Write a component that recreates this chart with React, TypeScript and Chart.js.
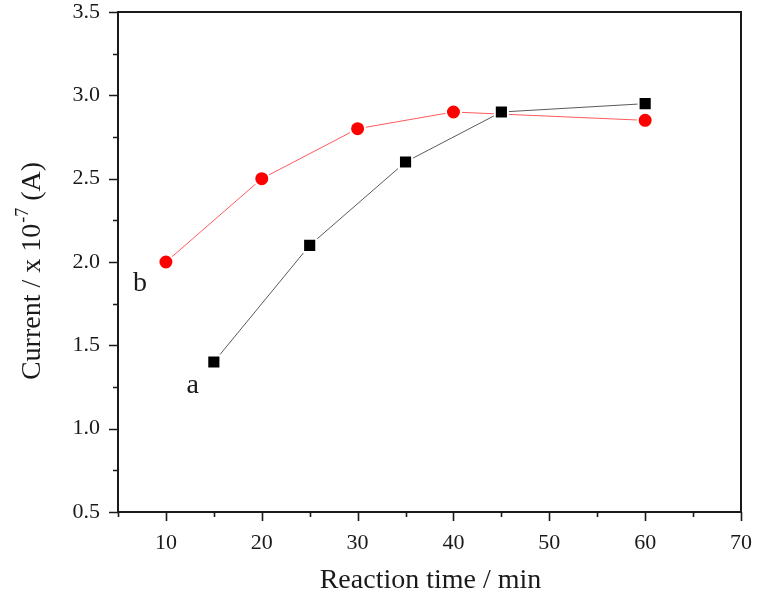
import { useEffect, useRef } from 'react';
import { Chart, registerables } from 'chart.js';

Chart.register(...registerables);

const timesA = [15, 25, 35, 45, 60];
const currentA = [1.4, 2.1, 2.6, 2.9, 2.95];
const timesB = [10, 20, 30, 40, 60];
const currentB = [2.0, 2.5, 2.8, 2.9, 2.85];

const xTitle = 'Reaction time / min';
const yTitleMain = 'Current / x 10';
const yTitleSup = '-7';
const yTitleEnd = ' (A)';

const curveLabels = ['a', 'b'];
const curveLabelX = [12.8, 7.3];
const curveLabelY = [1.26, 1.87];

const FONT = '"Liberation Serif", "Times New Roman", serif';
const INK = '#1a1a1a';

const framePlugin = {
  id: 'frameAndText',
  afterDraw(chart: any) {
    const { ctx, chartArea, scales } = chart;
    const { left, right, top, bottom } = chartArea;
    const xs = scales.x;
    const ys = scales.y;
    ctx.save();
    ctx.strokeStyle = INK;
    ctx.lineWidth = 2;
    ctx.strokeRect(left, top, right - left, bottom - top);
    ctx.lineWidth = 1.6;
    ctx.beginPath();
    xs.ticks.forEach((t: any) => {
      const px = Math.round(xs.getPixelForValue(t.value)) + 0.5;
      const major = Math.abs(t.value % 10) < 1e-6;
      const len = major ? 9 : 5;
      ctx.moveTo(px, bottom);
      ctx.lineTo(px, bottom + len);
    });
    ys.ticks.forEach((t: any) => {
      const py = Math.round(ys.getPixelForValue(t.value)) + 0.5;
      const r = t.value / 0.5;
      const major = Math.abs(r - Math.round(r)) < 1e-6;
      const len = major ? 9 : 5;
      ctx.moveTo(left, py);
      ctx.lineTo(left - len, py);
    });
    ctx.stroke();

    // curve labels
    ctx.fillStyle = INK;
    ctx.font = `28px ${FONT}`;
    ctx.textAlign = 'center';
    ctx.textBaseline = 'middle';
    curveLabels.forEach((lab, i) => {
      ctx.fillText(lab, xs.getPixelForValue(curveLabelX[i]), ys.getPixelForValue(curveLabelY[i]));
    });

    // x title
    ctx.font = `28px ${FONT}`;
    ctx.textAlign = 'center';
    ctx.textBaseline = 'alphabetic';
    ctx.fillText(xTitle, (left + right) / 2 + 1, 588);

    // y title with superscript
    const big = `28px ${FONT}`;
    const small = `18px ${FONT}`;
    ctx.font = big;
    const w1 = ctx.measureText(yTitleMain).width;
    const w3 = ctx.measureText(yTitleEnd).width;
    ctx.font = small;
    const w2 = ctx.measureText(yTitleSup).width;
    const total = w1 + w2 + w3 + 1;
    ctx.translate(40, 271);
    ctx.rotate(-Math.PI / 2);
    ctx.textAlign = 'left';
    ctx.textBaseline = 'alphabetic';
    let cx = -total / 2;
    ctx.font = big;
    ctx.fillText(yTitleMain, cx, 0);
    cx += w1;
    ctx.font = small;
    ctx.fillText(yTitleSup, cx + 1, -12);
    cx += w2 + 1;
    ctx.font = big;
    ctx.fillText(yTitleEnd, cx, 0);
    ctx.restore();
  },
};

export default function App() {
  const ref = useRef<HTMLCanvasElement | null>(null);

  useEffect(() => {
    if (!ref.current) return;
    const chart = new Chart(ref.current, {
      type: 'line',
      data: {
        datasets: [
          {
            label: 'a',
            data: timesA.map((t, i) => ({ x: t, y: currentA[i] })),
            borderColor: '#5a5a5a',
            borderWidth: 1,
            pointStyle: 'rect',
            pointRadius: 9.3,
            pointBackgroundColor: '#000',
            pointBorderColor: '#fff',
            pointBorderWidth: 2,
            fill: false,
            tension: 0,
          },
          {
            label: 'b',
            data: timesB.map((t, i) => ({ x: t, y: currentB[i] })),
            borderColor: '#ff5a5a',
            borderWidth: 1,
            pointStyle: 'circle',
            pointRadius: 7.5,
            pointBackgroundColor: '#ff0000',
            pointBorderColor: '#fff',
            pointBorderWidth: 2,
            fill: false,
            tension: 0,
          },
        ],
      },
      options: {
        animation: false,
        responsive: false,
        layout: { padding: { top: 12, right: 26, left: 0, bottom: 0 } },
        plugins: { legend: { display: false }, tooltip: { enabled: false } },
        scales: {
          x: {
            type: 'linear',
            min: 5,
            max: 70,
            grid: { display: false },
            border: { display: false },
            ticks: {
              stepSize: 5,
              autoSkip: false,
              maxRotation: 0,
              padding: 10,
              color: INK,
              font: { family: FONT, size: 22 },
              callback: (v: any) => (Math.abs(v % 10) < 1e-6 ? String(v) : ''),
            },
            title: { display: false, text: xTitle },
            afterFit: (s: any) => {
              s.height = 88;
              s.paddingLeft = 0;
            },
          },
          y: {
            type: 'linear',
            min: 0.5,
            max: 3.5,
            grid: { display: false },
            border: { display: false },
            ticks: {
              stepSize: 0.25,
              autoSkip: false,
              padding: 10,
              color: INK,
              font: { family: FONT, size: 22 },
              callback: (v: any) => {
                const r = v / 0.5;
                return Math.abs(r - Math.round(r)) < 1e-6 ? Number(v).toFixed(1) : '';
              },
            },
            afterFit: (s: any) => {
              s.width = 118;
              s.paddingTop = 0;
              s.paddingBottom = 0;
            },
          },
        },
      },
      plugins: [framePlugin],
    });
    return () => chart.destroy();
  }, []);

  return (
    <div style={{ position: 'absolute', left: 0, top: 0, width: 767, height: 600, background: '#fff' }}>
      <canvas ref={ref} width={767} height={600} style={{ display: 'block' }} />
    </div>
  );
}
